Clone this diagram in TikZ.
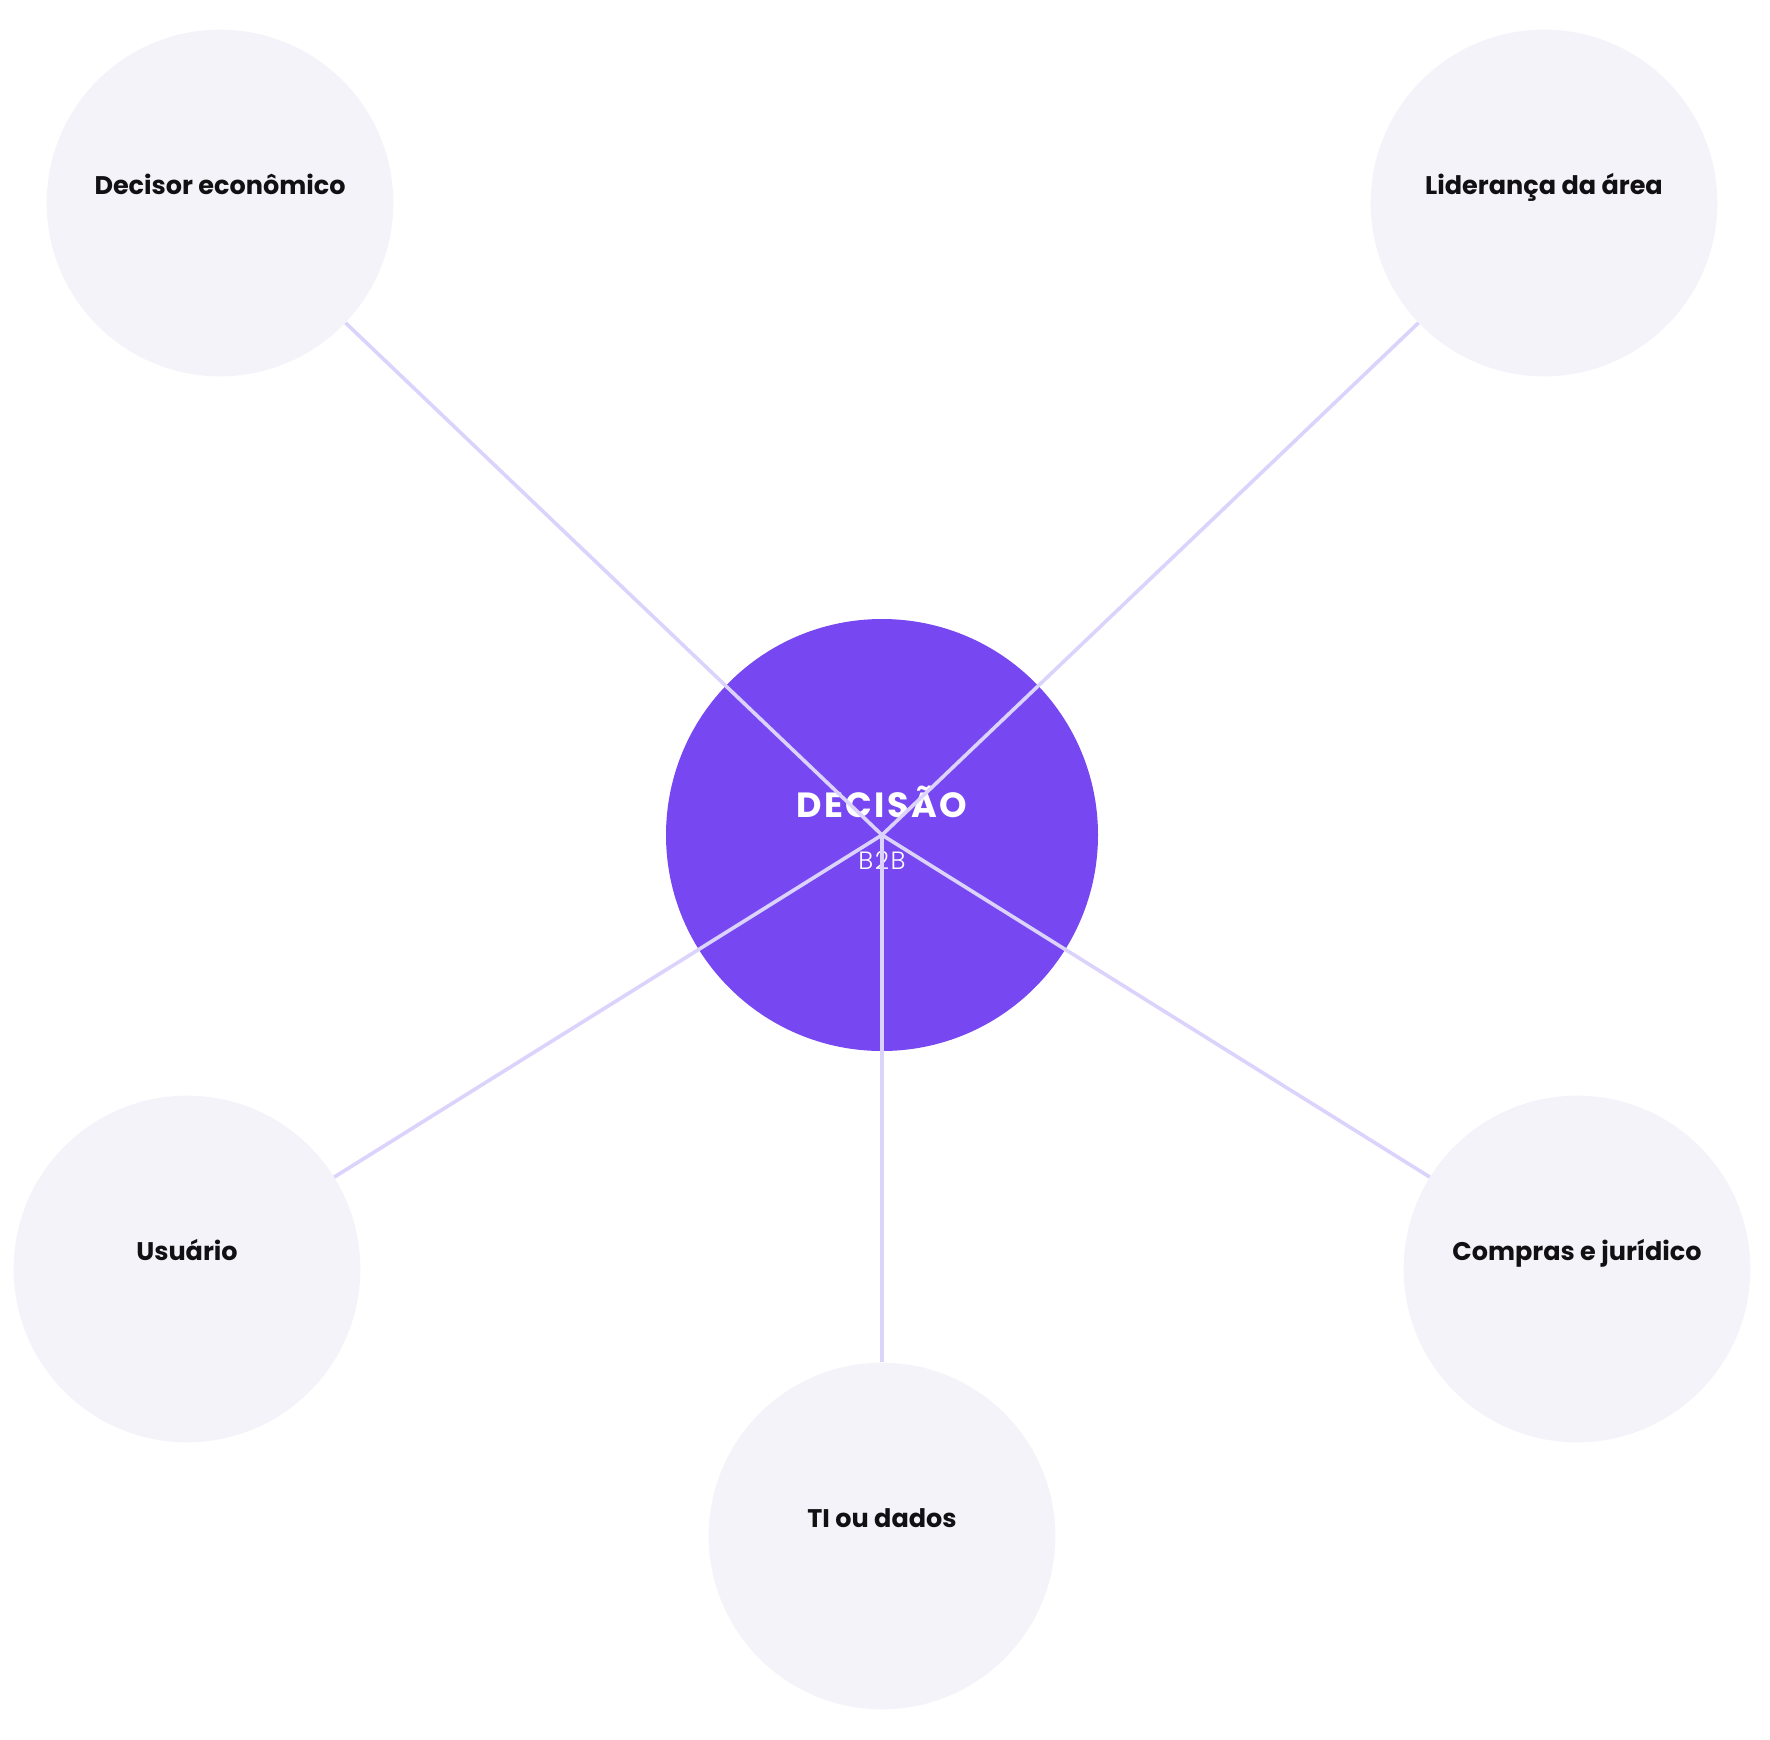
\documentclass[tikz,border=0pt]{standalone}
\usepackage{fontspec}
\setmainfont{Poppins}
\newfontfamily\poplight{Poppins Light}[LetterSpace=6]
\definecolor{hubviolet}{HTML}{7748F1}
\definecolor{cardfill}{HTML}{F5F3FA}
\definecolor{linklilac}{HTML}{DCD3FD}
\definecolor{inkblack}{HTML}{111114}
\begin{document}
\begin{tikzpicture}[
    x=1pt, y=-1pt,
    hub/.style={circle, fill=hubviolet, minimum size=432pt, inner sep=0pt},
    stakeholder/.style={circle, fill=cardfill, minimum size=346.7pt, inner sep=0pt},
    rolelabel/.style={anchor=base, text=inkblack, font=\fontsize{25.5}{30}\selectfont\bfseries},
    link/.style={draw=linklilac, line width=3.6pt}
  ]
    \useasboundingbox (0,0) rectangle (1770,1740);

    % Hub
    \node[hub] (hub) at (882,835) {};
    \node[anchor=base, text=white,
      font=\fontsize{35}{38}\selectfont\bfseries\addfontfeature{LetterSpace=7}]
      (hubtitle) at ([yshift=17.3pt]hub.center) {DECISÃO};
    \node[anchor=base, text=white, font=\fontsize{25}{28}\selectfont\poplight]
      (hubsub) at ([yshift=-34pt]hub.center) {B2B};

    % Stakeholders
    \node[stakeholder] (econ) at (220,203) {};
    \node[stakeholder] (lead) at (1544,203) {};
    \node[stakeholder] (user) at (187,1269) {};
    \node[stakeholder] (legal) at (1577,1269) {};
    \node[stakeholder] (tech) at (882,1536) {};

    \node[rolelabel] (econ-text) at ([yshift=8.7pt]econ.center) {Decisor econômico};
    \node[rolelabel] (lead-text) at ([yshift=8.7pt]lead.center) {Liderança da área};
    \node[rolelabel] (user-text) at ([yshift=8.7pt]user.center) {Usuário};
    \node[rolelabel] (legal-text) at ([yshift=8.7pt]legal.center) {Compras e jurídico};
    \node[rolelabel] (tech-text) at ([yshift=8.7pt]tech.center) {TI ou dados};

    % Links
    \foreach \target in {econ, lead, user, legal, tech}
      \draw[link] (hub.center) -- (\target);
\end{tikzpicture}
\end{document}
